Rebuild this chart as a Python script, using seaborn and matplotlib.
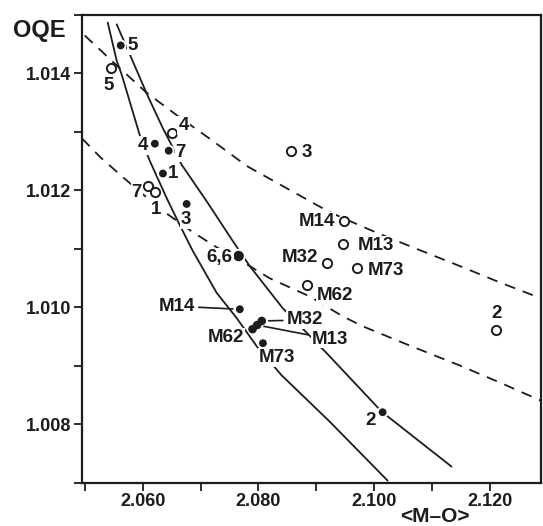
import matplotlib
matplotlib.use("Agg")
import matplotlib.pyplot as plt
import seaborn as sns
import numpy as np

# ---------------- data ----------------
filled_labels = ["5", "4", "7", "1", "3", "6,6", "M14", "M62", "M13", "M32", "M73", "2"]
filled_x = [2.0562, 2.0621, 2.0645, 2.0635, 2.0676, 2.0766, 2.0768, 2.0790, 2.0798, 2.0806, 2.0808, 2.1015]
filled_y = [1.01448, 1.01280, 1.01268, 1.01229, 1.01177, 1.01088, 1.00997, 1.00963, 1.00970, 1.00977, 1.00939, 1.00821]

open_labels = ["5", "4", "7", "1", "3", "M14", "M13", "M32", "M73", "M62", "2"]
open_x = [2.0546, 2.0650, 2.0609, 2.0622, 2.0856, 2.0949, 2.0946, 2.0918, 2.0970, 2.0884, 2.1212]
open_y = [1.01409, 1.01299, 1.01208, 1.01198, 1.01268, 1.01148, 1.01109, 1.01076, 1.01067, 1.01038, 1.00961]

# solid curves
solid1_x = [2.05395, 2.0555, 2.05637, 2.05948, 2.06121, 2.06415, 2.0664, 2.06865, 2.0728, 2.07625, 2.07971, 2.08404, 2.09234, 2.10237]
solid1_y = [1.01487, 1.01422, 1.01398, 1.01295, 1.01251, 1.01187, 1.01141, 1.01097, 1.01025, 1.00982, 1.00934, 1.00884, 1.00805, 1.00704]
solid2_x = [2.0555, 2.05775, 2.06086, 2.06346, 2.06674, 2.07124, 2.07556, 2.0785, 2.08421, 2.09182, 2.10133, 2.11343]
solid2_y = [1.01484, 1.01433, 1.01362, 1.01307, 1.01244, 1.01179, 1.01114, 1.01071, 1.00999, 1.00922, 1.00822, 1.00728]

# dashed curves
dash1_x = [2.04997, 2.05516, 2.06069, 2.0664, 2.0721, 2.07798, 2.08542, 2.09234, 2.09925, 2.10617, 2.11482, 2.12173, 2.12882]
dash1_y = [1.01465, 1.01417, 1.01367, 1.01325, 1.01285, 1.01242, 1.01201, 1.01163, 1.01133, 1.01105, 1.01071, 1.01043, 1.01016]
dash2_x = [2.0495, 2.05256, 2.05654, 2.06035, 2.0638, 2.06865, 2.07245, 2.07798, 2.08196, 2.08888, 2.09458, 2.09804, 2.10617, 2.11482, 2.12173, 2.12882]
dash2_y = [1.01289, 1.01258, 1.01223, 1.01191, 1.01163, 1.01129, 1.01105, 1.01074, 1.0105, 1.01019, 1.00985, 1.00968, 1.00935, 1.00901, 1.00872, 1.00841]

x_major = [2.060, 2.080, 2.100, 2.120]
x_minor = [2.050, 2.070, 2.090, 2.110]
y_major = [1.008, 1.010, 1.012, 1.014]
y_minor = [1.007, 1.009, 1.011, 1.013, 1.015]

# ---------------- style / positions ----------------
INK = "#1c1c1c"
filled_sizes = [50, 50, 50, 50, 50, 80, 50, 38, 38, 38, 50, 50]
filled_edge_w = [1.4, 1.4, 1.4, 1.4, 1.4, 1.4, 1.4, 0, 0, 0, 1.4, 1.4]
# label offsets in pixels (dx, dy up)
filled_off = [(12, 0), (-12, -2), (12, -2), (10, 0), (-1, -16), (-19, -1),
              (-63, 3), (-27, -8), (73, -14), (43, 1), (14, -14), (-12, -8)]
filled_leader = [False, False, False, False, False, False, True, False, True, True, False, False]
open_off = [(-3, -17), (12, 7), (-11, -7), (1, -18), (16, -2), (-28, -1),
            (33, -2), (-27, 6), (29, -2), (28, -10), (0, 17)]

sns.set_theme(style="ticks")
plt.rcParams["font.family"] = ["Liberation Sans", "DejaVu Sans"]

fig = plt.figure(figsize=(5.43, 5.26), dpi=100)
W, H = 543, 526
ax = fig.add_axes([82 / W, (H - 483) / H, (541 - 82) / W, (483 - 15) / H])

for cx, cy in [(solid1_x, solid1_y), (solid2_x, solid2_y)]:
    sns.lineplot(x=cx, y=cy, ax=ax, color=INK, linewidth=1.3, sort=False, estimator=None)
for cx, cy in [(dash1_x, dash1_y), (dash2_x, dash2_y)]:
    sns.lineplot(x=cx, y=cy, ax=ax, color=INK, linewidth=1.3, sort=False, estimator=None,
                 linestyle=(0, (6, 4.5)))

sns.scatterplot(x=filled_x, y=filled_y, ax=ax, color=INK, edgecolor="white", linewidth=filled_edge_w,
                s=filled_sizes, marker="o", zorder=5)
sns.scatterplot(x=open_x, y=open_y, ax=ax, color="white", edgecolor=INK, linewidth=1.4,
                s=44, marker="o", zorder=5)

tkw = dict(textcoords="offset pixels", ha="center", va="center", fontsize=13.5,
           fontweight="bold", color=INK, zorder=6,
           bbox=dict(boxstyle="square,pad=0.05", fc="white", ec="none"))
for lab, x, y, off, lead in zip(filled_labels, filled_x, filled_y, filled_off, filled_leader):
    if lead:
        ax.annotate(lab, xy=(x, y), xytext=off,
                    arrowprops=dict(arrowstyle="-", color=INK, lw=1.2, shrinkA=2, shrinkB=5), **tkw)
    else:
        ax.annotate(lab, xy=(x, y), xytext=off, **tkw)
for lab, x, y, off in zip(open_labels, open_x, open_y, open_off):
    ax.annotate(lab, xy=(x, y), xytext=off, **tkw)

ax.set_xlim(2.0495, 2.1289)
ax.set_ylim(1.007, 1.015)
ax.set_xticks(x_major)
ax.set_xticks(x_minor, minor=True)
ax.set_yticks(y_major)
ax.set_yticks(y_minor, minor=True)
ax.set_xticklabels([f"{v:.3f}" for v in x_major])
ax.set_yticklabels([f"{v:.3f}" for v in y_major])
ax.tick_params(which="both", direction="out", length=6, width=1.3, color=INK,
               labelsize=13, labelcolor=INK)
ax.tick_params(axis="y", pad=2)
ax.tick_params(axis="x", pad=1.5)
for lab in ax.get_xticklabels() + ax.get_yticklabels():
    lab.set_fontweight("bold")
for s in ax.spines.values():
    s.set_color(INK)
    s.set_linewidth(1.6)
ax.set_xlabel("")
ax.set_ylabel("")

fig.text(39 / W, 1 - 30 / H, "OQE", ha="center", va="center", fontsize=17,
         fontweight="bold", color=INK)
fig.text(435 / W, 1 - 516 / H, "<M–O>", ha="center", va="center", fontsize=15,
         fontweight="bold", color=INK)

fig.savefig("out.png", dpi=100, facecolor="white")
